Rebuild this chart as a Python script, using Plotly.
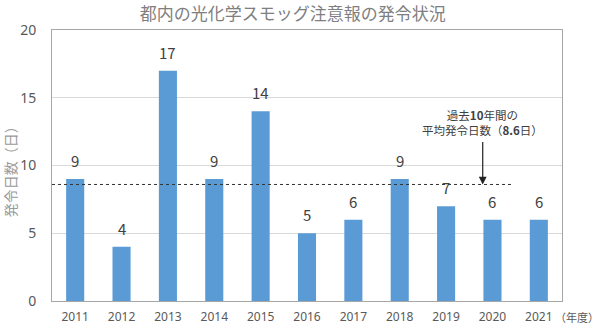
import plotly.graph_objects as go

# Photochemical smog warning days in Tokyo, by fiscal year
years = ["2011", "2012", "2013", "2014", "2015", "2016", "2017", "2018", "2019", "2020", "2021"]
days = [9, 4, 17, 9, 14, 5, 6, 9, 7, 6, 6]
avg_10yr = 8.6
y_ticks = [0, 5, 10, 15, 20]

FONT = "Noto Sans CJK JP, Noto Sans, sans-serif"
NUM_FONT = "Noto Sans, sans-serif"
TEXT = "#595959"

pos = list(range(len(years)))

fig = go.Figure()
fig.add_trace(go.Bar(
    x=pos, y=days,
    marker=dict(color="#5b9bd5", line=dict(width=0)),
    width=0.39,
    customdata=years,
    hovertemplate="%{customdata}: %{y}<extra></extra>",
))

# value labels above each bar
for p, d in zip(pos, days):
    fig.add_annotation(x=p, y=d, text=str(d), showarrow=False,
                       yanchor="bottom", yshift=6,
                       font=dict(family=FONT, size=15, color="#404040"))

# 10-year average line (dotted)
fig.add_shape(type="line", xref="x", yref="y",
              x0=-0.5, x1=9.44, y0=avg_10yr, y1=avg_10yr,
              line=dict(color="#333333", width=1, dash="dot"))

# arrow pointing to the average line
fig.add_annotation(x=8.79, y=avg_10yr, ax=8.79, ay=11.85,
                   xref="x", yref="y", axref="x", ayref="y",
                   showarrow=True, arrowhead=2, arrowsize=1.3, arrowwidth=1.2,
                   arrowcolor="#222222", text="")
fig.add_annotation(x=8.79, y=11.85, xref="x", yref="y",
                   text="過去<b>10</b>年間の<br>平均発令日数（<b>8.6</b>日）",
                   showarrow=False, yanchor="bottom", yshift=0,
                   align="center",
                   font=dict(family=FONT, size=11.5, color="#404040"))

# unit label after the last year
fig.add_annotation(x=1.0, y=0, xref="paper", yref="paper",
                   text="（年度）", showarrow=False,
                   xanchor="left", yanchor="middle", xshift=-9, yshift=-16,
                   font=dict(family=FONT, size=11, color=TEXT))

# y-axis title
fig.add_annotation(x=0, y=0.49, xref="paper", yref="paper",
                   text="発令日数（日）", showarrow=False, textangle=-90,
                   xanchor="center", yanchor="middle", xshift=-42,
                   font=dict(family=FONT, size=14, color="#9a9a9a"))

fig.update_layout(
    width=600, height=328,
    margin=dict(l=52, r=38, t=30, b=27, autoexpand=False),
    paper_bgcolor="white", plot_bgcolor="white",
    showlegend=False,
    title=dict(text="都内の光化学スモッグ注意報の発令状況",
               x=0.488, xanchor="center", yref="container",
               y=1 - 14 / 328, yanchor="middle",
               font=dict(family=FONT, size=17, color="#7f7f7f")),
    xaxis=dict(range=[-0.5, len(years) - 0.5], tickvals=pos, ticktext=years,
               showline=True, linecolor="#a6a6a6",
               linewidth=1, mirror=True, showgrid=False, ticks="",
               zeroline=False, ticklabelstandoff=5, automargin=False,
               tickfont=dict(family=NUM_FONT, size=12, color=TEXT)),
    yaxis=dict(range=[0, 20], tickvals=y_ticks, showline=True,
               linecolor="#a6a6a6", linewidth=1, mirror=True,
               showgrid=True, gridcolor="#d9d9d9", gridwidth=1,
               zeroline=False, ticks="", ticklabelstandoff=12, automargin=False,
               tickfont=dict(family=NUM_FONT, size=14, color=TEXT)),
)

fig.write_html("out.html")
